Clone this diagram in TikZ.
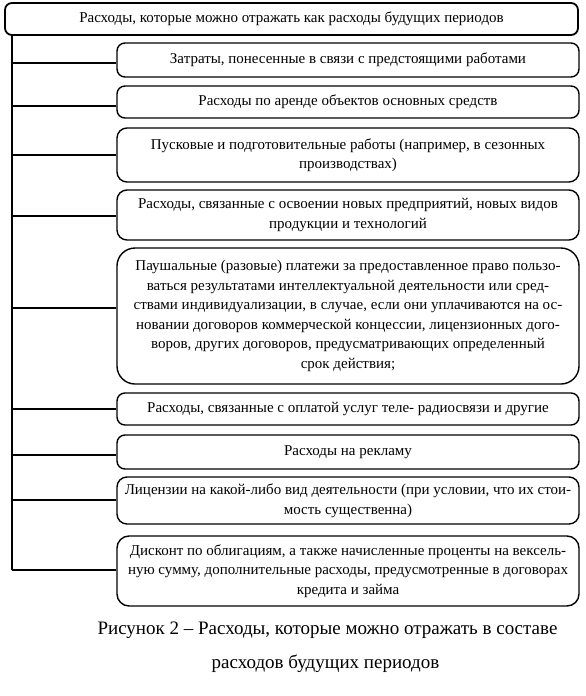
\documentclass[tikz,border=0pt]{standalone}
\usepackage{fontspec}
\setmainfont{Liberation Serif}
\begin{document}
\begin{tikzpicture}[x=1pt,y=-1pt,
  topbox/.style={draw=black, line width=1.8pt, rounded corners=7pt, inner sep=0pt,
    minimum width=573pt, minimum height=32pt, align=center, font=\fontsize{15}{19}\selectfont},
  childbox/.style={draw=black, line width=1.4pt, rounded corners=8pt, inner sep=0pt,
    minimum width=462pt, align=center, font=\fontsize{15}{19.5}\selectfont},
  spine/.style={line width=2.4pt},
  link/.style={line width=1.8pt},
  caption/.style={font=\fontsize{19}{22}\selectfont, inner sep=0pt}]
\useasboundingbox (0,0) rectangle (586,696);

\node[topbox] (top) at (291.5,19) {Расходы, которые можно отражать как расходы будущих периодов};

\node[childbox, minimum height=34pt] (c1) at (348,60) {Затраты, понесенные в связи с предстоящими работами};
\node[childbox, minimum height=32pt] (c2) at (348,102) {Расходы по аренде объектов основных средств};
\node[childbox, minimum height=54pt, rounded corners=10pt] (c3) at (348,155) {Пусковые и подготовительные работы (например, в сезонных\\производствах)};
\node[childbox, minimum height=50pt, rounded corners=10pt] (c4) at (348,215) {Расходы, связанные с освоении новых предприятий, новых видов\\продукции и технологий};
\node[childbox, minimum height=136pt, rounded corners=18pt] (c5) at (348,316) {Паушальные (разовые) платежи за предоставленное право пользо-\\ваться результатами интеллектуальной деятельности или сред-\\ствами индивидуализации, в случае, если они уплачиваются на ос-\\новании договоров коммерческой концессии, лицензионных дого-\\воров, других договоров, предусматривающих определенный\\срок действия;};
\node[childbox, minimum height=32pt] (c6) at (348,409) {Расходы, связанные с оплатой услуг теле- радиосвязи и другие};
\node[childbox, minimum height=34pt] (c7) at (348,452) {Расходы на рекламу};
\node[childbox, minimum height=47pt, rounded corners=10pt] (c8) at (348,500.5) {Лицензии на какой-либо вид деятельности (при условии, что их стои-\\мость существенна)};
\node[childbox, minimum height=70pt, rounded corners=12pt] (c9) at (348,571) {Дисконт по облигациям, а также начисленные проценты на вексель-\\ную сумму, дополнительные расходы, предусмотренные в договорах\\кредита и займа};

\coordinate (s0) at (12,35);
\coordinate (k1) at (12,63);
\coordinate (k2) at (12,106);
\coordinate (k3) at (12,155);
\coordinate (k4) at (12,216);
\coordinate (k5) at (12,308);
\coordinate (k6) at (12,409);
\coordinate (k7) at (12,455);
\coordinate (k8) at (12,500);
\coordinate (k9) at (12,570);

\draw[spine] (s0) -- (k9);
\foreach \i in {1,...,9}{
  \draw[link] (k\i) -- (k\i -| c\i.west);
}

\node[caption] (cap1) at (327.5,630) {Рисунок 2 – Расходы, которые можно отражать в составе};
\node[caption] (cap2) at (325.5,664) {расходов будущих периодов};
\end{tikzpicture}
\end{document}
